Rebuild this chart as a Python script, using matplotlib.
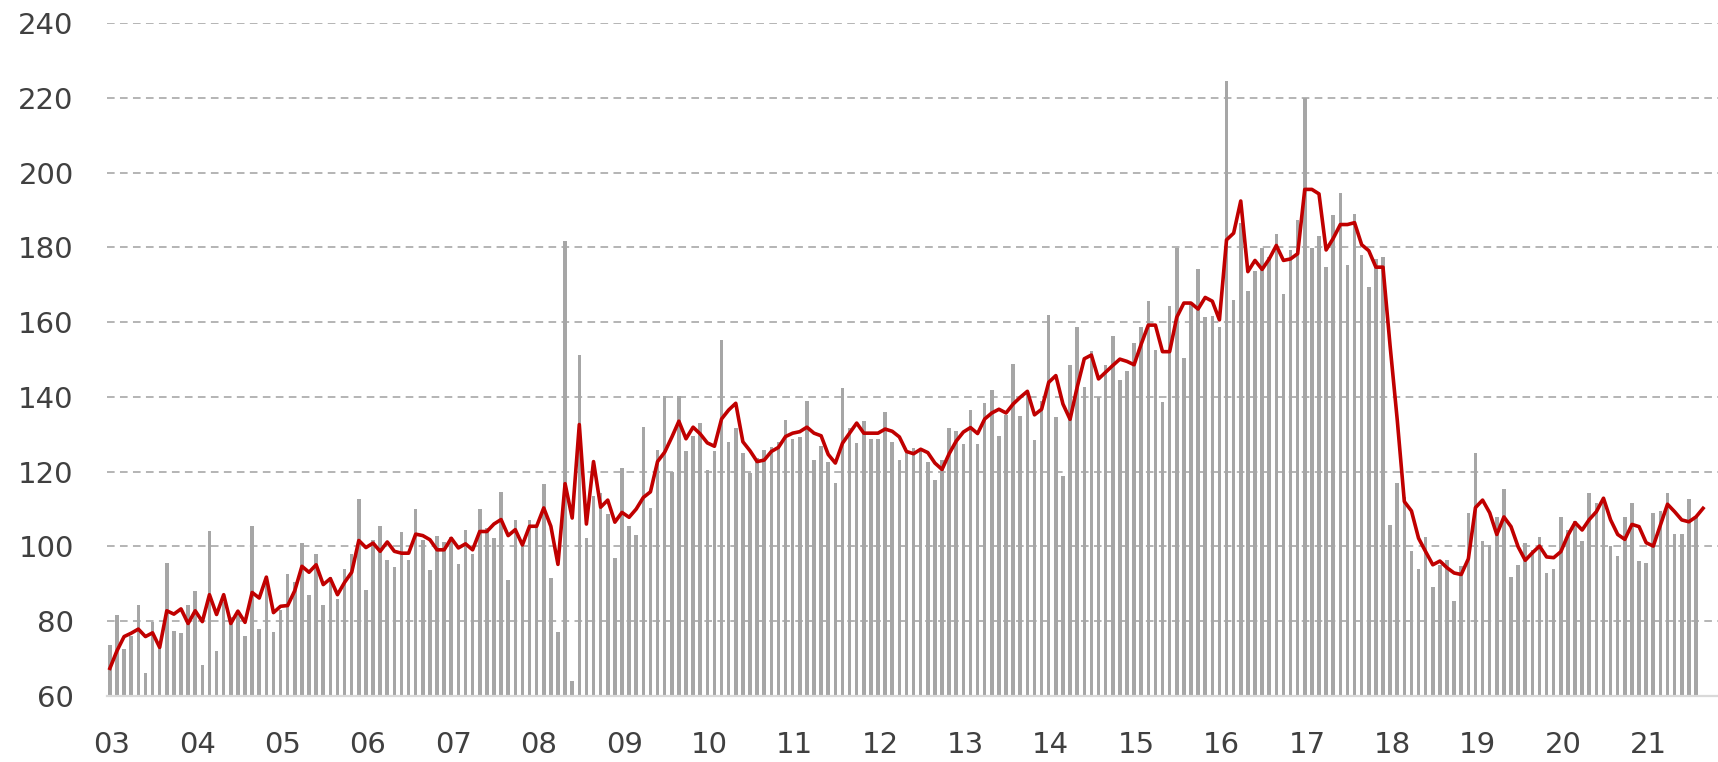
import matplotlib.pyplot as plt
import numpy as np

# monthly values, Jan 2003 .. Aug 2021
bars_2003 = [73.7, 81.8, 72.6, 76.0, 84.4, 66.1, 79.9, 73.5, 95.6, 77.4, 76.8, 84.4]
bars_2004 = [88.1, 68.2, 104.2, 72.0, 85.1, 81.1, 81.9, 76.0, 105.5, 78.0, 92.0, 77.0]
bars_2005 = [83.0, 92.6, 90.5, 101.0, 87.0, 98.0, 84.4, 91.8, 86.0, 94.0, 98.0, 112.8]
bars_2006 = [88.3, 101.8, 105.6, 96.4, 94.4, 104.0, 96.4, 109.9, 101.8, 93.7, 102.9, 101.3]
bars_2007 = [102.4, 95.2, 104.5, 98.0, 109.9, 104.9, 102.2, 114.6, 91.0, 107.2, 100.7, 107.2]
bars_2008 = [105.6, 116.8, 91.5, 77.1, 181.8, 64.1, 151.1, 102.2, 113.5, 114.4, 108.7, 96.9]
bars_2009 = [121.1, 105.5, 103.0, 131.9, 110.4, 125.9, 140.2, 119.8, 140.2, 125.4, 129.6, 132.9]
bars_2010 = [120.5, 125.4, 155.3, 128.0, 131.8, 124.9, 119.6, 123.6, 125.9, 126.7, 127.9, 133.9]
bars_2011 = [128.7, 129.2, 138.8, 123.2, 127.0, 122.7, 116.9, 142.4, 131.6, 127.6, 133.5, 128.7]
bars_2012 = [128.7, 136.0, 128.0, 123.1, 125.1, 126.3, 125.6, 122.6, 117.8, 123.0, 131.8, 130.8]
bars_2013 = [127.5, 136.6, 127.5, 138.3, 141.9, 129.6, 135.2, 148.8, 135.0, 140.7, 128.5, 139.0]
bars_2014 = [161.8, 134.5, 118.9, 148.4, 158.7, 142.6, 152.2, 139.9, 148.4, 156.4, 144.6, 146.8]
bars_2015 = [154.4, 158.6, 165.6, 152.5, 138.7, 164.4, 179.8, 150.5, 165.0, 174.1, 161.3, 161.7]
bars_2016 = [158.8, 224.6, 166.0, 186.6, 168.2, 173.6, 179.8, 177.3, 183.7, 167.5, 179.4, 187.4]
bars_2017 = [220.0, 179.8, 183.1, 174.7, 188.6, 194.5, 175.3, 189.0, 177.9, 169.5, 176.8, 177.4]
bars_2018 = [105.8, 116.9, 113.3, 98.9, 94.0, 102.5, 89.1, 95.1, 96.5, 85.4, 94.8, 108.9]
bars_2019 = [124.9, 101.5, 100.4, 107.9, 115.5, 91.9, 95.0, 100.8, 99.1, 102.6, 93.0, 94.1]
bars_2020 = [107.9, 104.4, 106.9, 101.5, 114.4, 111.7, 112.6, 100.1, 97.4, 107.9, 111.7, 96.2]
bars_2021 = [95.6, 109.0, 109.6, 114.4, 103.2, 103.2, 112.8, 107.9]

# red line, Jan 2003 .. Sep 2021
line_vals = [
    67.4, 72.1, 75.9, 76.8, 77.9, 75.9, 76.9, 73.0, 82.8, 81.9, 83.3, 79.4,
    82.8, 79.9, 87.1, 81.8, 87.1, 79.4, 82.7, 79.7, 87.7, 86.2, 91.8, 82.3,
    84.0, 84.2, 88.2, 94.7, 93.1, 95.1, 89.8, 91.4, 87.1, 90.4, 93.1, 101.6,
    99.7, 100.9, 98.7, 101.2, 98.7, 98.2, 98.2, 103.3, 102.9, 101.8, 99.1, 99.1,
    102.2, 99.6, 100.7, 99.1, 104.0, 104.0, 106.0, 107.2, 102.9, 104.5, 100.4, 105.4,
    105.4, 110.3, 105.4, 95.2, 116.8, 107.6, 132.6, 106.0, 122.7, 110.5, 112.4, 106.5,
    109.1, 107.8, 110.0, 113.1, 114.6, 122.7, 125.2, 129.2, 133.5, 128.8, 131.9, 130.1,
    127.7, 126.8, 134.1, 136.5, 138.3, 128.0, 125.6, 122.7, 123.1, 125.4, 126.5, 129.4,
    130.3, 130.7, 131.9, 130.3, 129.6, 124.6, 122.3, 127.6, 130.3, 133.0, 130.3, 130.3,
    130.3, 131.4, 130.8, 129.3, 125.4, 124.8, 126.0, 125.1, 122.3, 120.6, 124.8, 128.2,
    130.6, 131.8, 130.2, 134.1, 135.7, 136.7, 135.7, 138.1, 139.9, 141.5, 135.2, 136.7,
    143.9, 145.7, 138.1, 134.0, 142.6, 150.2, 151.2, 144.8, 146.6, 148.4, 150.1, 149.5,
    148.6, 154.1, 159.2, 159.2, 152.1, 152.1, 161.3, 165.1, 165.1, 163.5, 166.6, 165.6,
    160.6, 182.0, 183.8, 192.4, 173.5, 176.5, 174.1, 176.9, 180.5, 176.5, 176.9, 178.3,
    195.5, 195.5, 194.3, 179.3, 182.4, 186.1, 186.1, 186.6, 180.7, 179.1, 174.7, 174.7,
    153.6, 133.9, 112.0, 109.5, 102.2, 98.6, 95.1, 96.1, 94.3, 92.9, 92.5, 96.7,
    110.4, 112.4, 109.0, 103.2, 107.9, 105.3, 99.9, 96.3, 98.3, 100.1, 97.2, 97.0,
    98.6, 103.0, 106.4, 104.4, 107.2, 109.3, 112.9, 107.1, 103.2, 101.9, 105.9, 105.3,
    101.0, 100.1, 105.7, 111.3, 109.3, 107.1, 106.6, 107.9, 110.2,
]

year_labels = ['03', '04', '05', '06', '07', '08', '09', '10', '11', '12',
               '13', '14', '15', '16', '17', '18', '19', '20', '21']

bar_vals = (bars_2003 + bars_2004 + bars_2005 + bars_2006 + bars_2007 + bars_2008
            + bars_2009 + bars_2010 + bars_2011 + bars_2012 + bars_2013 + bars_2014
            + bars_2015 + bars_2016 + bars_2017 + bars_2018 + bars_2019 + bars_2020
            + bars_2021)

plt.rcParams['font.family'] = ['DejaVu Sans']

fig = plt.figure(figsize=(17.18, 7.62), dpi=100)
ax = fig.add_axes([0.0623, 0.0866, 0.9377, 0.8832])

xb = np.arange(len(bar_vals))
xl = np.arange(len(line_vals))

ax.bar(xb, np.array(bar_vals) - 60, bottom=60, width=0.5, color='#a6a6a6', zorder=2)
ax.plot(xl, line_vals, color='#c00000', lw=2.6, zorder=3, solid_joinstyle='round')

ax.set_ylim(60, 240)
ax.set_xlim(-0.4, 226.1)

ax.set_yticks(np.arange(60, 241, 20))
ax.set_xticks(np.arange(len(year_labels)) * 12 + 0.3)
ax.set_xticklabels(year_labels)

# dashed horizontal guides
for v in range(80, 241, 20):
    ax.axhline(v, color='#a0a0a0', lw=1.1, ls=(0, (5, 3.5)), zorder=1)

for s in ['top', 'right', 'left']:
    ax.spines[s].set_visible(False)
ax.spines['bottom'].set_color('#d9d9d9')
ax.spines['bottom'].set_linewidth(1.6)

ax.tick_params(axis='y', length=0, pad=24, labelsize=21, labelcolor='#404040')
ax.tick_params(axis='x', length=0, pad=25, labelsize=21, labelcolor='#404040')

fig.savefig('out.png', dpi=100)
